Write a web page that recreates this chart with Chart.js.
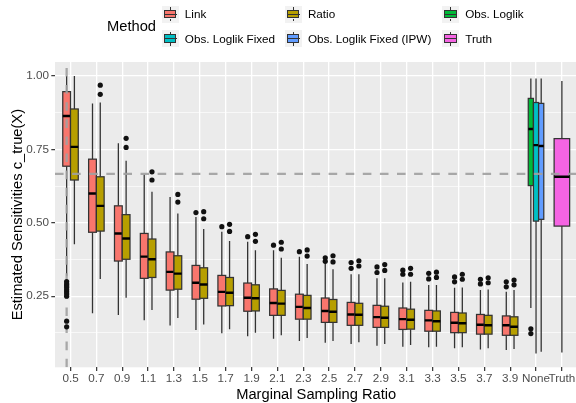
<!DOCTYPE html>
<html>
<head>
<meta charset="utf-8">
<script src="https://cdn.jsdelivr.net/npm/chart.js@4.4.1/dist/chart.umd.min.js"></script>
<style>
  html, body { margin: 0; padding: 0; background: #ffffff; overflow: hidden; width: 576px; height: 403px; }
  #wrap { position: relative; width: 580px; height: 403px; }
  #chart { position: absolute; left: 0; top: 0; }
  .lg { position: absolute; font-family: "Liberation Sans", Arial, sans-serif; color: #000; white-space: nowrap; }
  .lg-title { font-size: 14.7px; }
  .lg-label { font-size: 11.7px; }
  .lg-key { position: absolute; width: 17.3px; height: 17.3px; background: #F2F2F2; }
  .lg-key .wh { position: absolute; left: 8px; width: 1.3px; background: #333; }
  .lg-key .bx { position: absolute; left: 2.2px; top: 4.3px; width: 10.5px; height: 6.3px; border: 1.1px solid #333; }
  .lg-key .md { position: absolute; left: 2.2px; top: 8.1px; width: 12.9px; height: 1.3px; background: #333; }
</style>
</head>
<body>
<div id="wrap">
  <canvas id="chart" width="580" height="403"></canvas>
  <div id="legend"></div>
</div>
<script>
// ---- categories and methods ----
const ratios = ['0.5', '0.7', '0.9', '1.1', '1.3', '1.5', '1.7', '1.9', '2.1', '2.3',
                '2.5', '2.7', '2.9', '3.1', '3.3', '3.5', '3.7', '3.9'];
const categories = [...ratios, 'None', 'Truth'];
const methods = ['Link', 'Ratio', 'Obs. Loglik', 'Obs. Loglik Fixed', 'Obs. Loglik Fixed (IPW)', 'Truth'];
const methodColors = ['#F8766D', '#B79F00', '#00BA38', '#00BFC4', '#619CFF', '#F564E3'];

// ---- Link: box statistics per sampling ratio ----
const linkLow  = [0.320, 0.192, 0.186, 0.168, 0.150, 0.135, 0.124, 0.114, 0.105, 0.098, 0.092, 0.087, 0.081, 0.078, 0.076, 0.073, 0.069, 0.067];
const linkQ1   = [0.693, 0.468, 0.370, 0.311, 0.271, 0.240, 0.217, 0.199, 0.185, 0.172, 0.161, 0.151, 0.144, 0.137, 0.131, 0.126, 0.121, 0.117];
const linkMed  = [0.864, 0.600, 0.464, 0.385, 0.333, 0.296, 0.265, 0.245, 0.227, 0.214, 0.200, 0.188, 0.179, 0.172, 0.168, 0.160, 0.153, 0.151];
const linkQ3   = [0.947, 0.717, 0.558, 0.464, 0.401, 0.355, 0.321, 0.295, 0.275, 0.257, 0.244, 0.229, 0.219, 0.210, 0.202, 0.195, 0.188, 0.183];
const linkHigh = [1.000, 0.907, 0.771, 0.665, 0.588, 0.520, 0.470, 0.436, 0.407, 0.385, 0.364, 0.325, 0.311, 0.297, 0.288, 0.279, 0.271, 0.265];
const linkOutliers = [
  [0.300, 0.292, 0.286, 0.280, 0.272, 0.265, 0.258, 0.250, 0.165, 0.146],
  [], [], [], [],
  [0.535], [0.487], [0.453], [0.424], [0.402],
  [0.381, 0.369], [0.365, 0.345], [0.350, 0.331], [0.339, 0.325],
  [0.328, 0.309], [0.316, 0.299], [0.308, 0.292], [0.299, 0.282]
];

// ---- Ratio: box statistics per sampling ratio ----
const ratioLow  = [0.427, 0.309, 0.245, 0.203, 0.176, 0.154, 0.138, 0.126, 0.117, 0.108, 0.098, 0.093, 0.087, 0.084, 0.078, 0.076, 0.073, 0.070];
const ratioQ1   = [0.646, 0.472, 0.376, 0.314, 0.274, 0.243, 0.218, 0.200, 0.185, 0.172, 0.161, 0.151, 0.144, 0.138, 0.131, 0.126, 0.121, 0.117];
const ratioMed  = [0.759, 0.558, 0.447, 0.376, 0.327, 0.290, 0.262, 0.243, 0.225, 0.210, 0.197, 0.187, 0.177, 0.170, 0.165, 0.158, 0.151, 0.146];
const ratioQ3   = [0.888, 0.657, 0.528, 0.445, 0.388, 0.347, 0.314, 0.289, 0.270, 0.253, 0.239, 0.226, 0.216, 0.206, 0.200, 0.193, 0.185, 0.180];
const ratioHigh = [1.000, 0.910, 0.712, 0.606, 0.532, 0.479, 0.438, 0.407, 0.381, 0.360, 0.342, 0.325, 0.311, 0.299, 0.288, 0.280, 0.273, 0.271];
const ratioOutliers = [
  [], [0.969, 0.938], [0.788, 0.757], [0.674, 0.646], [0.597, 0.571],
  [0.538, 0.514], [0.495, 0.471], [0.461, 0.437], [0.434, 0.411], [0.408, 0.387],
  [0.388, 0.367], [0.371, 0.353], [0.358, 0.338], [0.345, 0.325],
  [0.332, 0.314], [0.325, 0.308], [0.313, 0.296], [0.305, 0.289]
];

// ---- "None" and "Truth" groups: [lower whisker, Q1, median, Q3, upper whisker] ----
const obsLoglikStats      = [0.210, 0.627, 0.820, 0.924, 0.992];
const obsLoglikOutliers   = [0.139, 0.123];
const obsFixedStats       = [0.055, 0.506, 0.765, 0.910, 0.992];
const obsFixedIpwStats    = [0.061, 0.512, 0.762, 0.907, 0.992];
const truthStats          = [0.058, 0.489, 0.657, 0.787, 0.983];

// ---- reference value and axis breaks ----
const trueSensitivity = 0.667;
const yMajorTicks = [0.25, 0.50, 0.75, 1.00];
const yMinorTicks = [0.125, 0.375, 0.625, 0.875];

// ---- assemble boxes: position on the category axis, width, stats, colour ----
const boxes = [];
const outlierPoints = methods.map(() => []);
ratios.forEach((r, i) => {
  const c = i + 1;
  boxes.push({ x: c - 0.15, w: 0.3, m: 0, s: [linkLow[i], linkQ1[i], linkMed[i], linkQ3[i], linkHigh[i]] });
  boxes.push({ x: c + 0.15, w: 0.3, m: 1, s: [ratioLow[i], ratioQ1[i], ratioMed[i], ratioQ3[i], ratioHigh[i]] });
  linkOutliers[i].forEach(v => outlierPoints[0].push({ x: c - 0.15, y: v }));
  ratioOutliers[i].forEach(v => outlierPoints[1].push({ x: c + 0.15, y: v }));
});
const noneIdx = categories.indexOf('None') + 1;
const truthIdx = categories.indexOf('Truth') + 1;
boxes.push({ x: noneIdx - 0.2, w: 0.2, m: 2, s: obsLoglikStats });
boxes.push({ x: noneIdx,       w: 0.2, m: 3, s: obsFixedStats });
boxes.push({ x: noneIdx + 0.2, w: 0.2, m: 4, s: obsFixedIpwStats });
boxes.push({ x: truthIdx,      w: 0.6, m: 5, s: truthStats });
obsLoglikOutliers.forEach(v => outlierPoints[2].push({ x: noneIdx - 0.2, y: v }));

const FONT = "'Liberation Sans', Arial, Helvetica, sans-serif";

// panel background, box-and-whisker glyphs and dashed reference lines
const boxPlugin = {
  id: 'boxes',
  beforeDraw(chart) {
    const { ctx, chartArea: a } = chart;
    ctx.save();
    ctx.fillStyle = '#EBEBEB';
    ctx.fillRect(a.left, a.top, a.right - a.left, a.bottom - a.top);
    ctx.restore();
  },
  beforeDatasetsDraw(chart) {
    const { ctx, chartArea: a } = chart;
    const xs = chart.scales.x, ys = chart.scales.y;
    ctx.save();
    ctx.beginPath();
    ctx.rect(a.left, a.top, a.right - a.left, a.bottom - a.top);
    ctx.clip();
    boxes.forEach(b => {
      const [lo, q1, med, q3, hi] = b.s;
      const x0 = xs.getPixelForValue(b.x - b.w / 2);
      const x1 = xs.getPixelForValue(b.x + b.w / 2);
      const xm = xs.getPixelForValue(b.x);
      // whiskers
      ctx.strokeStyle = '#333333';
      ctx.lineWidth = 1.3;
      ctx.beginPath();
      ctx.moveTo(xm, ys.getPixelForValue(hi));
      ctx.lineTo(xm, ys.getPixelForValue(q3));
      ctx.moveTo(xm, ys.getPixelForValue(q1));
      ctx.lineTo(xm, ys.getPixelForValue(lo));
      ctx.stroke();
      // box
      const yt = ys.getPixelForValue(q3), yb = ys.getPixelForValue(q1);
      ctx.fillStyle = methodColors[b.m];
      ctx.fillRect(x0, yt, x1 - x0, yb - yt);
      ctx.lineWidth = 1.25;
      ctx.strokeRect(x0, yt, x1 - x0, yb - yt);
      // median
      const ym = ys.getPixelForValue(med);
      ctx.strokeStyle = '#000000';
      ctx.lineWidth = 2.4;
      ctx.beginPath();
      ctx.moveTo(x0, ym);
      ctx.lineTo(x1, ym);
      ctx.stroke();
    });
    // dashed reference lines
    ctx.strokeStyle = 'rgba(160,160,160,0.9)';
    ctx.lineWidth = 2.3;
    ctx.setLineDash([8.6, 8.5]);
    const yRef = ys.getPixelForValue(trueSensitivity);
    ctx.beginPath();
    ctx.moveTo(a.left, yRef);
    ctx.lineTo(a.right, yRef);
    ctx.stroke();
    const xRef = xs.getPixelForValue(0.85);
    ctx.beginPath();
    ctx.moveTo(xRef, a.bottom);
    ctx.lineTo(xRef, a.top);
    ctx.stroke();
    ctx.restore();
  }
};

const chart = new Chart(document.getElementById('chart'), {
  type: 'scatter',
  data: {
    datasets: methods.map((m, i) => ({
      label: m,
      data: outlierPoints[i],
      pointRadius: 2.6,
      pointHoverRadius: 2.6,
      backgroundColor: '#111111',
      borderWidth: 0
    }))
  },
  options: {
    responsive: false,
    animation: false,
    events: [],
    layout: { padding: { left: 0, right: 1.8, top: 62, bottom: 0 } },
    plugins: { legend: { display: false }, tooltip: { enabled: false } },
    scales: {
      x: {
        type: 'linear',
        min: 0.4,
        max: categories.length + 0.6,
        afterBuildTicks: s => { s.ticks = categories.map((c, i) => ({ value: i + 1 })); },
        afterFit: s => { s.height = 35.7; },
        ticks: {
          callback: v => categories[Math.round(v) - 1],
          autoSkip: false,
          maxRotation: 0,
          color: '#4D4D4D',
          font: { family: FONT, size: 11.7 },
          padding: 1
        },
        grid: { color: '#FFFFFF', lineWidth: 1.3, tickColor: '#333333', tickWidth: 1.2, tickLength: 3.7 },
        border: { display: false },
        title: {
          display: true,
          text: 'Marginal Sampling Ratio',
          color: '#000000',
          font: { family: FONT, size: 14.7, lineHeight: 1 },
          padding: { top: 0, bottom: 1 }
        }
      },
      y: {
        type: 'linear',
        min: 0.008,
        max: 1.048,
        afterBuildTicks: s => {
          s.ticks = [...yMinorTicks, ...yMajorTicks].sort((a, b) => a - b).map(v => ({ value: v }));
        },
        afterFit: s => { s.width = 55; },
        ticks: {
          callback: v => yMajorTicks.includes(v) ? v.toFixed(2) : '',
          color: '#4D4D4D',
          font: { family: FONT, size: 11.7 },
          padding: 2.2
        },
        grid: {
          color: '#FFFFFF',
          lineWidth: c => yMajorTicks.includes(c.tick.value) ? 1.3 : 0.65,
          tickColor: c => yMajorTicks.includes(c.tick.value) ? '#333333' : 'rgba(0,0,0,0)',
          tickWidth: 1.2,
          tickLength: 3.7
        },
        border: { display: false },
        title: {
          display: true,
          text: 'Estimated Sensitivities c_true(X)',
          color: '#000000',
          font: { family: FONT, size: 14.7, lineHeight: 1 },
          padding: { top: 10.6, bottom: 0 }
        }
      }
    }
  },
  plugins: [boxPlugin]
});

// ---- legend: title on the left, keys in two rows of three ----
(function buildLegend() {
  const host = document.getElementById('legend');
  const keyLeft = [161.6, 284.7, 442];
  const rowMid = [14.3, 38.6];
  const title = document.createElement('div');
  title.className = 'lg lg-title';
  title.textContent = 'Method';
  title.style.left = '107px';
  title.style.top = (26.4 - 9) + 'px';
  title.style.lineHeight = '18px';
  host.appendChild(title);
  methods.forEach((m, i) => {
    const row = Math.floor(i / 3), col = i % 3;
    const key = document.createElement('div');
    key.className = 'lg-key';
    key.style.left = keyLeft[col] + 'px';
    key.style.top = (rowMid[row] - 8.65) + 'px';
    key.innerHTML =
      '<div class="wh" style="top:1.7px;height:2.6px"></div>' +
      '<div class="wh" style="top:13px;height:2.6px"></div>' +
      '<div class="bx" style="background:' + methodColors[i] + '"></div>' +
      '<div class="md"></div>';
    host.appendChild(key);
    const lab = document.createElement('div');
    lab.className = 'lg lg-label';
    lab.textContent = m;
    lab.style.left = (keyLeft[col] + 23.2) + 'px';
    lab.style.top = (rowMid[row] - 8) + 'px';
    lab.style.lineHeight = '16px';
    host.appendChild(lab);
  });
})();
</script>
</body>
</html>
